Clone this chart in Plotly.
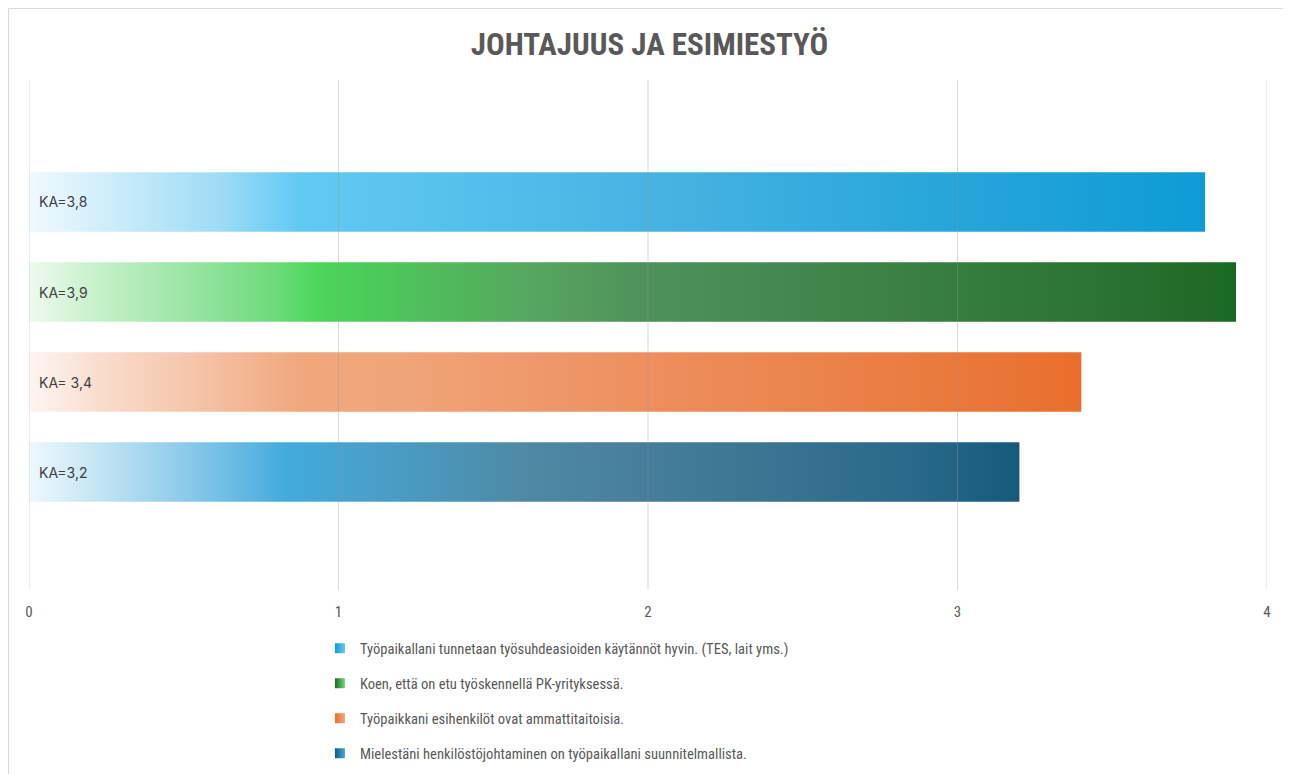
import plotly.graph_objects as go

TITLE = "JOHTAJUUS JA ESIMIESTYÖ"

statements = [
    "Työpaikallani tunnetaan työsuhdeasioiden käytännöt hyvin. (TES, lait yms.)",
    "Koen, että on etu työskennellä PK-yrityksessä.",
    "Työpaikkani esihenkilöt ovat ammattitaitoisia.",
    "Mielestäni henkilöstöjohtaminen on työpaikallani suunnitelmallista.",
]
averages = [3.8, 3.9, 3.4, 3.2]
bar_labels = ["KA=3,8", "KA=3,9", "KA= 3,4", "KA=3,2"]
tick_vals = [0, 1, 2, 3, 4]

# gradient stops along each bar (fraction of bar length, colour)
gradients = [
    [[0, "#f0f9fe"], [0.08, "#c8ebf9"], [0.16, "#9fdcf6"], [0.23, "#62c9f3"],
     [0.32, "#5ac4ee"], [0.53, "#48b3e3"], [0.75, "#2ba7da"], [1, "#0e9bd6"]],
    [[0, "#eefaee"], [0.06, "#c4f0c8"], [0.14, "#95e3a0"], [0.2, "#6fdb7b"],
     [0.24, "#4cd65a"], [0.31, "#4dc35a"], [0.41, "#55a85f"], [0.51, "#4f915c"],
     [0.72, "#3b8045"], [0.88, "#2a7434"], [1, "#1a6923"]],
    [[0, "#fdf5f1"], [0.07, "#f9dccd"], [0.16, "#f5c3a8"], [0.26, "#f0a77c"],
     [0.36, "#f0a479"], [0.59, "#ed8f5e"], [0.83, "#ea7d43"], [1, "#e96e2c"]],
    [[0, "#eef8fd"], [0.07, "#c3e4f4"], [0.17, "#84c6e8"], [0.26, "#43aade"],
     [0.37, "#4a9cc4"], [0.51, "#4f88a3"], [0.63, "#457d9b"], [0.88, "#2b6a8a"],
     [1, "#175a7c"]],
]

BAR_HALF = 0.33
NARROW = "Liberation Sans Narrow, Arial Narrow, Roboto Condensed, sans-serif"

fig = go.Figure()

for i, (name, val, cs) in enumerate(zip(statements, averages, gradients)):
    fig.add_trace(go.Scatter(
        x=[0, val, val, 0, 0],
        y=[i - BAR_HALF, i - BAR_HALF, i + BAR_HALF, i + BAR_HALF, i - BAR_HALF],
        mode="lines", line=dict(width=0), fill="toself",
        fillgradient=dict(type="horizontal", colorscale=cs, start=0, stop=val),
        showlegend=False, hoverinfo="skip",
    ))
    # legend swatch
    fig.add_trace(go.Scatter(
        x=[None], y=[None], mode="markers", name=name, legendgroup=str(i),
        marker=dict(symbol="square", size=10, color=cs[-1][1],
                    gradient=dict(type="horizontal", color=cs[3][1])),
    ))
    fig.add_annotation(x=0, y=i, text=bar_labels[i], showarrow=False,
                       xanchor="left", xshift=8,
                       font=dict(family="Inter, Roboto, sans-serif", size=14, color="#404040"))

for t in tick_vals:
    fig.add_vline(x=t, line_color="rgba(150,150,150,0.36)", line_width=1, layer="above")

# chart border
fig.add_shape(type="rect", xref="paper", yref="paper",
              x0=-0.0165, x1=1.2, y0=-0.5, y1=1.1402,
              line=dict(color="#d9d9d9", width=1))

fig.update_layout(
    width=1283, height=784,
    paper_bgcolor="white", plot_bgcolor="white",
    margin=dict(l=21, r=24, t=72, b=202),
    title=dict(text="<b>" + TITLE + "</b>", x=0.5, xanchor="center",
               y=1 - 36 / 784, yanchor="middle",
               font=dict(family=NARROW, size=31, color="#595959")),
    xaxis=dict(range=[0, 4], tickvals=tick_vals, showgrid=False, zeroline=False,
               ticks="", ticklabelstandoff=11,
               tickfont=dict(family=NARROW, size=15, color="#595959")),
    yaxis=dict(range=[4.31, -1.355], showticklabels=False, showgrid=False,
               zeroline=False),
    legend=dict(x=0.235, xanchor="left", y=-0.083, yanchor="top",
                traceorder="grouped", tracegroupgap=13,
                font=dict(family=NARROW, size=14.6, color="#595959"),
                itemclick=False),
    showlegend=True,
)

fig.write_html("out.html")
